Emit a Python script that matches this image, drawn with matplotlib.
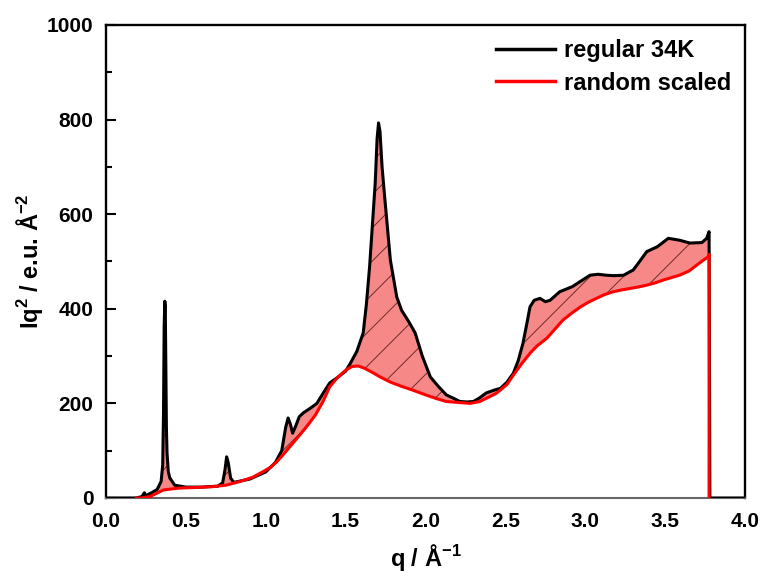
import matplotlib
matplotlib.use("Agg")
import matplotlib.pyplot as plt
import numpy as np

# regular 34K curve (q in 1/A, Iq^2 in e.u./A^2)
q_reg = [0.0, 0.19, 0.225, 0.24, 0.25, 0.29, 0.32, 0.345, 0.355, 0.360, 0.364, 0.368,
         0.371, 0.374, 0.378, 0.382, 0.39, 0.40, 0.43, 0.50, 0.60, 0.70, 0.73, 0.745,
         0.755, 0.765, 0.78, 0.80, 0.90, 1.00, 1.06, 1.10, 1.125, 1.14, 1.155, 1.168,
         1.185, 1.21, 1.235, 1.28, 1.32, 1.36, 1.40, 1.45, 1.50, 1.53, 1.57, 1.61, 1.63,
         1.65, 1.67, 1.685, 1.697, 1.706, 1.715, 1.728, 1.746, 1.78, 1.82, 1.85, 1.90,
         1.935, 1.98, 2.03, 2.08, 2.13, 2.18, 2.215, 2.26, 2.30, 2.34, 2.38, 2.43, 2.47,
         2.51, 2.55, 2.58, 2.61, 2.635, 2.654, 2.68, 2.717, 2.75, 2.78, 2.84, 2.92, 2.97,
         3.03, 3.08, 3.13, 3.18, 3.24, 3.30, 3.34, 3.385, 3.45, 3.52, 3.59, 3.655, 3.73,
         3.76, 3.775, 3.78, 4.0]
I_reg = [0, 0, 3, 11, 5, 12, 18, 35, 70, 180, 360, 416,
         405, 300, 150, 95, 55, 42, 27, 23, 23, 25, 32, 60,
         87, 75, 42, 33, 40, 55, 75, 100, 150, 169, 155, 137,
         150, 172, 180, 190, 200, 222, 243, 255, 268, 285, 310, 349, 410,
         489, 590, 665, 760, 793, 775, 700, 630, 503, 425, 397, 370,
         349, 300, 256, 236, 218, 210, 204, 203, 204, 212, 222, 228, 232,
         245, 264, 290, 327, 370, 404, 418, 422, 415, 418, 436, 447, 458,
         471, 473, 471, 470, 471, 482, 500, 521, 531, 549, 545, 539, 540,
         549, 563, 0, 0]

# random scaled curve
q_rnd = [0.19, 0.22, 0.275, 0.36, 0.46, 0.55, 0.67, 0.75, 0.84, 0.92, 0.985, 1.03,
         1.07, 1.11, 1.15, 1.20, 1.256, 1.31, 1.36, 1.40, 1.45, 1.50, 1.54, 1.58, 1.62,
         1.67, 1.715, 1.78, 1.85, 1.92, 2.00, 2.07, 2.13, 2.20, 2.28, 2.34, 2.40, 2.446,
         2.51, 2.55, 2.60, 2.654, 2.70, 2.76, 2.81, 2.86, 2.92, 2.97, 3.02, 3.07, 3.12,
         3.175, 3.23, 3.28, 3.33, 3.385, 3.44, 3.49, 3.54, 3.59, 3.65, 3.70, 3.74, 3.77,
         3.775, 3.775]
I_rnd = [0, 0, 3, 17, 21, 22, 24, 27, 35, 44, 56, 65,
         77, 92, 108, 128, 151, 175, 205, 235, 255, 270, 278, 279, 274,
         265, 256, 245, 236, 228, 218, 210, 204, 202, 200, 204, 214, 222,
         240, 260, 283, 306, 322, 338, 357, 376, 392, 404, 414, 422, 430,
         436, 440, 443, 446, 450, 455, 461, 466, 471, 480, 493, 503, 510,
         515, 0]

xticks = [0.0, 0.5, 1.0, 1.5, 2.0, 2.5, 3.0, 3.5, 4.0]
yticks = [0, 200, 400, 600, 800, 1000]


def main():
    plt.rcParams['font.family'] = ['Liberation Sans', 'DejaVu Sans']
    plt.rcParams['font.weight'] = 'bold'
    plt.rcParams['mathtext.fontset'] = 'custom'
    plt.rcParams['mathtext.rm'] = 'Liberation Sans:bold'
    plt.rcParams['mathtext.it'] = 'Liberation Sans:bold'
    plt.rcParams['mathtext.bf'] = 'Liberation Sans:bold'
    plt.rcParams['mathtext.default'] = 'rm'
    plt.rcParams['hatch.linewidth'] = 0.7

    fig = plt.figure(figsize=(7.61, 5.72), dpi=100)
    ax = fig.add_axes([0.1393, 0.1294, 0.8397, 0.8269])

    # shaded difference between the two curves
    poly_x = np.concatenate([q_reg, q_rnd[::-1]])
    poly_y = np.concatenate([I_reg, I_rnd[::-1]])
    ax.fill(poly_x, poly_y, facecolor='#f78888', edgecolor='#6e2a2a',
            linewidth=0, hatch='/', zorder=1)

    ax.plot(q_reg, I_reg, color='black', lw=2.2, label='regular 34K', zorder=2.6)
    ax.plot(q_rnd, I_rnd, color='red', lw=2.2, label='random scaled', zorder=3)

    ax.set_xlim(0, 4.0)
    ax.set_ylim(0, 1000)
    ax.set_xticks(xticks)
    ax.set_xticklabels([f"{t:.1f}" for t in xticks])
    ax.set_yticks(yticks)
    ax.set_yticks([100, 300, 500, 700, 900], minor=True)
    ax.tick_params(axis='y', which='major', direction='in', length=7, width=1.5,
                   labelsize=15, pad=9)
    ax.tick_params(axis='y', which='minor', direction='in', length=4, width=1.5)
    ax.tick_params(axis='x', length=0, labelsize=15, pad=10)

    for s in ['left', 'top', 'right']:
        ax.spines[s].set_linewidth(1.7)
    ax.spines['bottom'].set_linewidth(1.5)
    ax.spines['bottom'].set_color('#666666')

    ax.set_xlabel(r'q / Å$^{-1}$', fontsize=17, fontweight='bold', labelpad=8)
    ax.set_ylabel(r'Iq$^{2}$ / e.u. Å$^{-2}$', fontsize=17, fontweight='bold', labelpad=1)

    leg = ax.legend(loc='upper right', frameon=False, fontsize=17, handlelength=2.5,
                    handletextpad=0.35, labelspacing=0.4, borderaxespad=0.2)
    for line in leg.get_lines():
        line.set_linewidth(2.5)

    fig.savefig('out.png', dpi=100)


if __name__ == "__main__":
    main()
